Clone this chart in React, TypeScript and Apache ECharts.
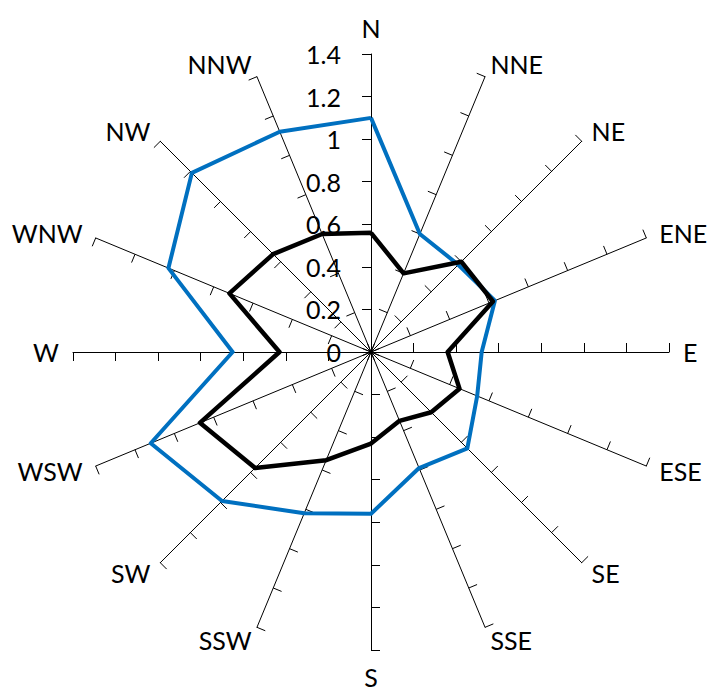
import React, { useEffect, useRef } from "react";
import * as echarts from "echarts";

// Directions, clockwise from North
const directions = ["N", "NNE", "NE", "ENE", "E", "ESE", "SE", "SSE", "S", "SSW", "SW", "WSW", "W", "WNW", "NW", "NNW"];
// Values per direction (clockwise from North)
const blueValues = [1.1, 0.6, 0.58, 0.63, 0.52, 0.54, 0.64, 0.59, 0.76, 0.82, 0.99, 1.12, 0.65, 1.03, 1.19, 1.12];
const blackValues = [0.56, 0.4, 0.6, 0.62, 0.36, 0.45, 0.4, 0.35, 0.43, 0.55, 0.77, 0.87, 0.43, 0.72, 0.65, 0.6];
const axisMax = 1.4;
const splitCount = 7;

// ECharts radar runs counter-clockwise; reorder so the picture runs clockwise
const ccwIndex = directions.map((_, i) => (i === 0 ? 0 : directions.length - i));

export default function App() {
  const ref = useRef<HTMLDivElement>(null);
  useEffect(() => {
    if (!ref.current) return;
    const chart = echarts.init(ref.current, undefined, { renderer: "svg" });
    const font = "Lato, 'Open Sans', sans-serif";
    chart.setOption({
      animation: false,
      backgroundColor: "#fff",
      radar: {
        center: [371, 352],
        radius: 298,
        startAngle: 90,
        splitNumber: splitCount,
        shape: "polygon",
        nameGap: 14,
        axisName: { color: "#000", fontSize: 25, fontFamily: font },
        indicator: ccwIndex.map((i) => ({
          name: directions[i],
          min: 0,
          max: axisMax,
          axisLabel:
            i === 0
              ? {
                  show: true,
                  color: "#000",
                  fontSize: 25,
                  fontFamily: font,
                  margin: 30,
                  showMaxLabel: true,
                  showMinLabel: true,
                  formatter: (v: number) => String(Math.round(v * 10) / 10),
                }
              : { show: false },
        })),
        axisLine: { show: true, lineStyle: { color: "#000", width: 1 } },
        axisTick: { show: true, length: 9, lineStyle: { color: "#000", width: 1 } },
        splitLine: { show: false },
        splitArea: { show: false },
      },
      series: [
        {
          type: "radar",
          symbol: "none",
          data: [
            { value: ccwIndex.map((i) => blueValues[i]), lineStyle: { color: "#0070C0", width: 4 } },
            { value: ccwIndex.map((i) => blackValues[i]), lineStyle: { color: "#000", width: 4.5 } },
          ],
        },
      ],
    });
    return () => chart.dispose();
  }, []);
  return <div ref={ref} style={{ position: "fixed", left: 0, top: 0, width: 721, height: 697 }} />;
}
